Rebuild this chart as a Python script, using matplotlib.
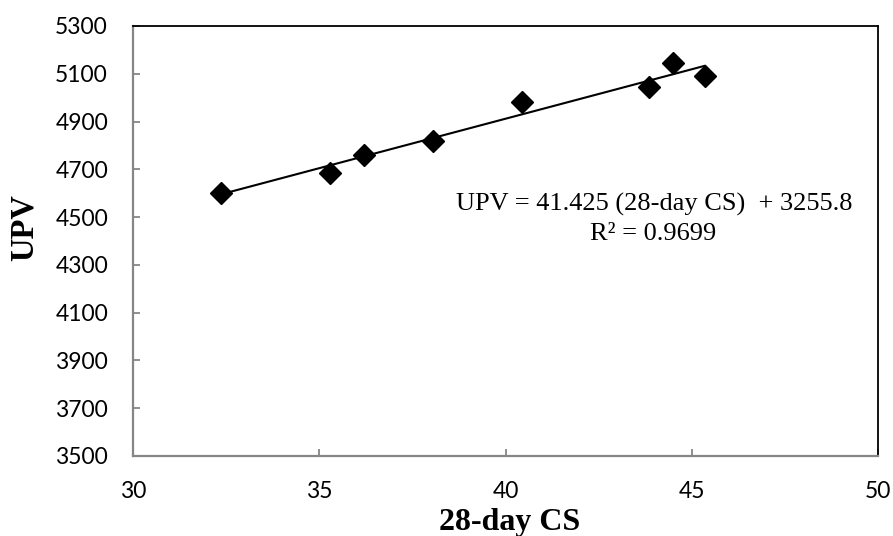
import numpy as np
import matplotlib
matplotlib.use("Agg")
import matplotlib.pyplot as plt

# Data
cs28 = [32.35, 35.3, 36.2, 38.05, 40.45, 43.85, 44.5, 45.35]
upv = [4603, 4685, 4760, 4820, 4982, 5043, 5146, 5092]
x_ticks = [30, 35, 40, 45, 50]
y_ticks = [3500, 3700, 3900, 4100, 4300, 4500, 4700, 4900, 5100, 5300]
eq_line1 = "UPV = 41.425 (28-day CS)  + 3255.8"
eq_line2 = "R² = 0.9699"

fig = plt.figure(figsize=(8.93, 5.36), dpi=100)
ax = fig.add_axes([133/893, 1-456/536, 745/893, 430/536])

ax.plot(cs28, upv, linestyle="none", marker="D", markersize=11.5,
        color="black", zorder=3)

coef = np.polyfit(cs28, upv, 1)
xs = np.array([min(cs28), max(cs28)])
ax.plot(xs, np.polyval(coef, xs), color="black", linewidth=1.5, zorder=2)

ax.set_xlim(x_ticks[0], x_ticks[-1])
ax.set_ylim(y_ticks[0], y_ticks[-1])
ax.set_xticks(x_ticks)
ax.set_yticks(y_ticks)

gray = "#868686"
for s in ["left", "bottom"]:
    ax.spines[s].set_color(gray)
    ax.spines[s].set_linewidth(1.6)
for s in ["top", "right"]:
    ax.spines[s].set_color("black")
    ax.spines[s].set_linewidth(1.3)

ax.tick_params(axis="both", direction="in", length=5, width=1.3, color=gray,
               labelsize=16.5, labelcolor="black")
ax.tick_params(axis="y", pad=18)
ax.tick_params(axis="x", pad=18)
for lab in ax.get_xticklabels() + ax.get_yticklabels():
    lab.set_fontfamily("Lato")

ax.set_xlabel("28-day CS", fontfamily="Liberation Serif", fontweight="bold",
              fontsize=23)
ax.xaxis.label.set_va("baseline")
ax.xaxis.set_label_coords((510 - 133) / 745, (456 - 530) / 430)

ax.set_ylabel("UPV", fontfamily="Liberation Serif", fontweight="bold",
              fontsize=23.5)
ax.yaxis.label.set_va("center")
ax.yaxis.set_label_coords((24 - 133) / 745, (456 - 227.5) / 430)

ax.text(0.699, 0.585, eq_line1, transform=ax.transAxes, ha="center",
        va="center", fontfamily="Liberation Serif", fontsize=19)
ax.text(0.698, 0.517, eq_line2, transform=ax.transAxes, ha="center",
        va="center", fontfamily="Liberation Serif", fontsize=19)

fig.savefig("out.png", dpi=100)
